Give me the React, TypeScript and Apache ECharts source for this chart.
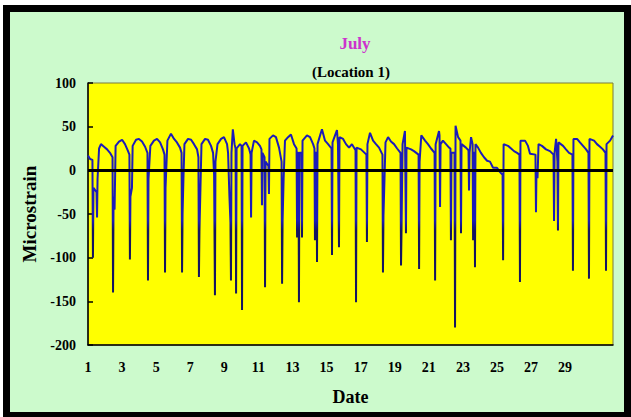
import { useEffect, useRef } from "react";
import * as echarts from "echarts";

// Microstrain readings, [date (day of July), microstrain]
const week1: [number, number][] = [
  [1.0, 17], [1.12, 13], [1.26, 12], [1.29, -100], [1.32, -20], [1.5, -25], [1.53, -54], [1.56, -10],
  [1.65, 25], [1.76, 30], [1.94, 27], [2.12, 24], [2.29, 20], [2.44, 15], [2.47, -140], [2.5, -30],
  [2.56, -45], [2.62, 28], [2.82, 33], [3.0, 35], [3.17, 30], [3.35, 22], [3.43, 18], [3.46, -102],
  [3.49, -30], [3.58, -20], [3.62, 28], [3.82, 35], [3.99, 36], [4.17, 33], [4.35, 27], [4.49, 20],
  [4.52, -126], [4.55, -10], [4.66, 28], [4.87, 34], [5.05, 36], [5.23, 32], [5.4, 24], [5.49, 18],
  [5.52, -117], [5.55, -20], [5.66, 34], [5.87, 42], [6.05, 36], [6.22, 32], [6.4, 26], [6.49, 20],
  [6.52, -117], [6.55, -50], [6.6, -10], [6.66, 30], [6.87, 36], [7.05, 35], [7.22, 30], [7.4, 24],
  [7.48, 15], [7.51, -122], [7.54, -70], [7.6, -20], [7.66, 30], [7.87, 36],
];
const week2: [number, number][] = [
  [8.04, 35], [8.22, 28], [8.34, 20], [8.4, -5], [8.42, -5], [8.45, -143], [8.48, 10], [8.6, 30],
  [8.81, 36], [8.98, 38], [9.16, 30], [9.22, 20], [9.3, -30], [9.36, -60], [9.39, -126], [9.42, 20],
  [9.5, 47], [9.6, 30], [9.66, 25], [9.69, -141], [9.72, 25], [9.92, 30], [10.01, 28], [10.04, -160],
  [10.07, 28], [10.27, 32], [10.45, 25], [10.54, 18], [10.57, -54], [10.6, 20], [10.74, 34], [10.92, 32],
  [11.09, 28], [11.18, 24], [11.21, -40], [11.24, 20], [11.36, 15], [11.39, -134], [11.42, 10], [11.59, 5],
  [11.62, -27], [11.65, 36], [11.86, 40], [12.03, 38], [12.21, 26], [12.36, 10], [12.39, -130], [12.42, -58],
  [12.48, -10], [12.56, 34], [12.74, 38], [12.91, 41], [13.09, 30], [13.24, 25], [13.27, -77], [13.3, 20],
  [13.35, 20], [13.38, -151], [13.41, 20], [13.53, 20], [13.56, -77], [13.59, 34], [13.85, 40], [14.03, 38],
  [14.21, 30], [14.29, 25], [14.32, -80], [14.35, 20], [14.41, 20], [14.44, -105], [14.47, 30], [14.56, 36],
  [14.73, 47], [14.91, 34],
];
const week3: [number, number][] = [
  [15.09, 30], [15.29, 25], [15.32, -97], [15.35, 32], [15.61, 46], [15.67, 30], [15.7, 30], [15.73, -88],
  [15.76, 38], [15.97, 36], [16.14, 30], [16.32, 26], [16.49, 30], [16.7, 23], [16.73, -151], [16.76, 26],
  [17.02, 24], [17.34, 18], [17.37, -82], [17.4, 30], [17.55, 43], [17.73, 34], [17.9, 30], [18.08, 26],
  [18.28, 18], [18.31, -117], [18.34, -52], [18.4, -10], [18.46, 32], [18.61, 38], [18.78, 33], [18.96, 30],
  [19.14, 25], [19.34, 20], [19.37, -109], [19.4, -68], [19.46, 30], [19.6, 45], [19.63, 45], [19.66, -72],
  [19.69, 26], [19.96, 24], [20.13, 22], [20.4, 18], [20.43, -113], [20.46, 10], [20.56, 40], [20.78, 34],
  [20.95, 30], [21.13, 25], [21.34, 20], [21.37, -126], [21.4, 30], [21.6, 45], [21.63, 40], [21.66, -42],
  [21.69, 30], [21.83, 34],
];
const week4: [number, number][] = [
  [22.01, 30], [22.19, 26], [22.27, 25], [22.3, -80], [22.33, 20], [22.51, 20], [22.54, -180], [22.57, 51],
  [22.72, 38], [22.86, 34], [22.89, -72], [22.92, 30], [23.18, 26], [23.33, 23], [23.36, -23], [23.39, 20],
  [23.48, 38], [23.57, 30], [23.6, -80], [23.63, 20], [23.68, 20], [23.71, -111], [23.74, 30], [23.89, 26],
  [24.06, 20], [24.24, 15], [24.42, 11], [24.59, 10], [24.77, 3], [25.0, 3], [25.18, -2], [25.33, -5],
  [25.36, -103], [25.39, 30], [25.65, 28], [25.83, 25], [26.0, 22], [26.18, 20], [26.32, 18], [26.35, -128],
  [26.38, 34], [26.65, 34], [26.82, 28], [26.94, 19], [27.26, 18], [27.29, -48], [27.32, 0], [27.38, -9],
  [27.44, 30], [27.64, 28], [27.88, 24], [28.11, 22], [28.32, 18], [28.35, -58], [28.38, 20], [28.47, 36],
  [28.55, 10], [28.58, -69], [28.61, 32], [28.88, 28],
];
const week5: [number, number][] = [
  [29.05, 24], [29.23, 20], [29.43, 18], [29.46, -115], [29.49, 36], [29.7, 36], [29.87, 32], [30.05, 28],
  [30.23, 24], [30.37, 20], [30.4, -124], [30.43, 36], [30.7, 34], [30.87, 30], [31.05, 27], [31.22, 24],
  [31.37, 20], [31.4, -115], [31.43, 30], [31.64, 34], [31.81, 40],
];

const dateLabels = [1, 3, 5, 7, 9, 11, 13, 15, 17, 19, 21, 23, 25, 27, 29];
const yMin = -200;
const yMax = 100;
const yStep = 50;

const serif = "'Liberation Serif', 'Times New Roman', serif";

export default function App() {
  const ref = useRef<HTMLDivElement>(null);

  useEffect(() => {
    if (!ref.current) return;
    const chart = echarts.init(ref.current, null, { renderer: "svg" });
    const data = [...week1, ...week2, ...week3, ...week4, ...week5];
    const lineColor = new echarts.graphic.LinearGradient(0, 0, 0, 1, [
      { offset: 0, color: "#1c1cb8" },
      { offset: 0.47, color: "#1c1cb8" },
      { offset: 0.52, color: "#141460" },
      { offset: 1, color: "#141460" },
    ]);
    chart.setOption({
      animation: false,
      backgroundColor: "#ffffff",
      graphic: [
        { type: "rect", z: -20, silent: true, shape: { x: 3, y: 5, width: 628, height: 412 }, style: { fill: "#000000" } },
        { type: "rect", z: -19, silent: true, shape: { x: 10, y: 12, width: 614, height: 400 }, style: { fill: "#ccfacc" } },
      ],
      title: [
        {
          text: "July",
          left: 350,
          top: 30,
          textAlign: "center",
          textStyle: { color: "#cc33cc", fontFamily: serif, fontWeight: "bold", fontSize: 17 },
        },
        {
          text: "(Location 1)",
          left: 346,
          top: 59,
          textAlign: "center",
          textStyle: { color: "#000000", fontFamily: serif, fontWeight: "bold", fontSize: 15 },
        },
      ],
      grid: {
        left: 88,
        top: 83,
        right: 18,
        bottom: 72,
        show: true,
        backgroundColor: "#ffff00",
        borderColor: "#7a7a40",
        borderWidth: 1,
      },
      xAxis: {
        type: "value",
        min: 1,
        max: 31.81,
        interval: 1,
        name: "Date",
        nameLocation: "middle",
        nameGap: 43,
        nameTextStyle: { fontFamily: serif, fontWeight: "bold", fontSize: 18, color: "#000" },
        axisLine: { show: true, onZero: false, lineStyle: { color: "#000", width: 1.5 } },
        axisTick: { show: false },
        splitLine: { show: false },
        axisLabel: {
          margin: 15,
          fontFamily: serif,
          fontWeight: "bold",
          fontSize: 14,
          color: "#000",
          showMaxLabel: false,
          formatter: (v: number) => (dateLabels.includes(v) ? String(v) : ""),
        },
      },
      yAxis: {
        type: "value",
        min: yMin,
        max: yMax,
        interval: yStep,
        name: "Microstrain",
        nameLocation: "middle",
        nameGap: 47,
        nameTextStyle: { fontFamily: serif, fontWeight: "bold", fontSize: 19, color: "#000" },
        axisLine: { show: true, lineStyle: { color: "#000", width: 1.5 } },
        axisTick: { show: true, inside: true, length: 5, lineStyle: { color: "#000", width: 1.5 } },
        splitLine: { show: false },
        axisLabel: { margin: 12, fontFamily: serif, fontWeight: "bold", fontSize: 14, color: "#000" },
      },
      series: [
        {
          type: "line",
          data,
          showSymbol: false,
          symbol: "none",
          lineStyle: { color: lineColor, width: 2 },
          markLine: {
            silent: true,
            symbol: ["none", "none"],
            label: { show: false },
            lineStyle: { color: "#000000", width: 3, type: "solid" },
            data: [{ yAxis: 0 }],
          },
        },
      ],
    });
    return () => chart.dispose();
  }, []);

  return <div ref={ref} style={{ position: "fixed", left: 0, top: 0, width: 631, height: 417 }} />;
}
